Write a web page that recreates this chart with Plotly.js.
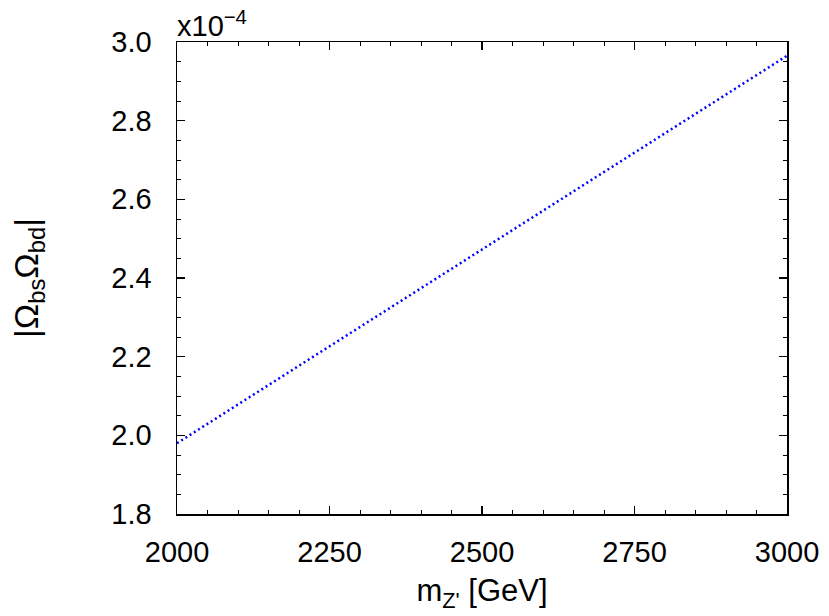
<!DOCTYPE html>
<html>
<head>
<meta charset="utf-8">
<script src="https://cdn.plot.ly/plotly-3.0.1.min.js"></script>
<style>html,body{margin:0;padding:0;background:#fff}#chart{width:829px;height:616px}</style>
</head>
<body>
<div id="chart"></div>
<script>
// m_Z' in GeV
const mZ = [2000, 2250, 2500, 2750, 3000];
// |Omega_bs Omega_bd| in units of 1e-4
const omega = [1.98, 2.226, 2.474, 2.72, 2.965];
const xTicks = [2000, 2250, 2500, 2750, 3000];
const yTicks = [1.8, 2.0, 2.2, 2.4, 2.6, 2.8, 3.0];
const yTickText = ['1.8', '2.0', '2.2', '2.4', '2.6', '2.8', '3.0'];

const fam = 'Liberation Sans, Arial, Helvetica, sans-serif';
const font = {family: fam, color: '#000', size: 29};

const trace = {
  x: mZ, y: omega, mode: 'lines', type: 'scatter',
  line: {color: '#0000ff', width: 2.5, dash: '2px,3px'},
  hoverinfo: 'skip'
};

const axisCommon = {
  showgrid: false, zeroline: false, showline: true, linecolor: '#000', linewidth: 1.5,
  mirror: 'ticks', ticks: 'inside', ticklen: 8, tickwidth: 1.2, tickcolor: '#000',
  tickfont: font
};

const layout = {
  width: 829, height: 616,
  margin: {l: 177, r: 42, t: 42, b: 102},
  paper_bgcolor: '#fff', plot_bgcolor: '#fff',
  font: font,
  showlegend: false,
  xaxis: Object.assign({}, axisCommon, {
    range: [2000, 3000], tickvals: xTicks, ticktext: xTicks.map(String),
    ticklabelstandoff: 12,
    minor: {dtick: 50, tick0: 2000, ticks: 'inside', ticklen: 4, tickwidth: 1, tickcolor: '#000'},
    title: {text: "m<sub>Z'</sub> [GeV]", font: {family: fam, color: '#000', size: 31}, standoff: 12}
  }),
  yaxis: Object.assign({}, axisCommon, {
    range: [1.8, 3.0], tickvals: yTicks, ticktext: yTickText,
    ticklabelstandoff: 18,
    minor: {dtick: 0.05, tick0: 1.8, ticks: 'inside', ticklen: 4, tickwidth: 1, tickcolor: '#000'},
    title: {text: '|Ω<sub>bs</sub>Ω<sub>bd</sub>|', font: {family: fam, color: '#000', size: 34}, standoff: 62}
  }),
  annotations: [{
    xref: 'paper', yref: 'paper', x: 0, y: 1, xanchor: 'left', yanchor: 'bottom',
    text: 'x10<sup>−4</sup>', showarrow: false, font: font, xshift: -2, yshift: -2
  }]
};

Plotly.newPlot('chart', [trace], layout, {staticPlot: true, displayModeBar: false});
</script>
</body>
</html>
